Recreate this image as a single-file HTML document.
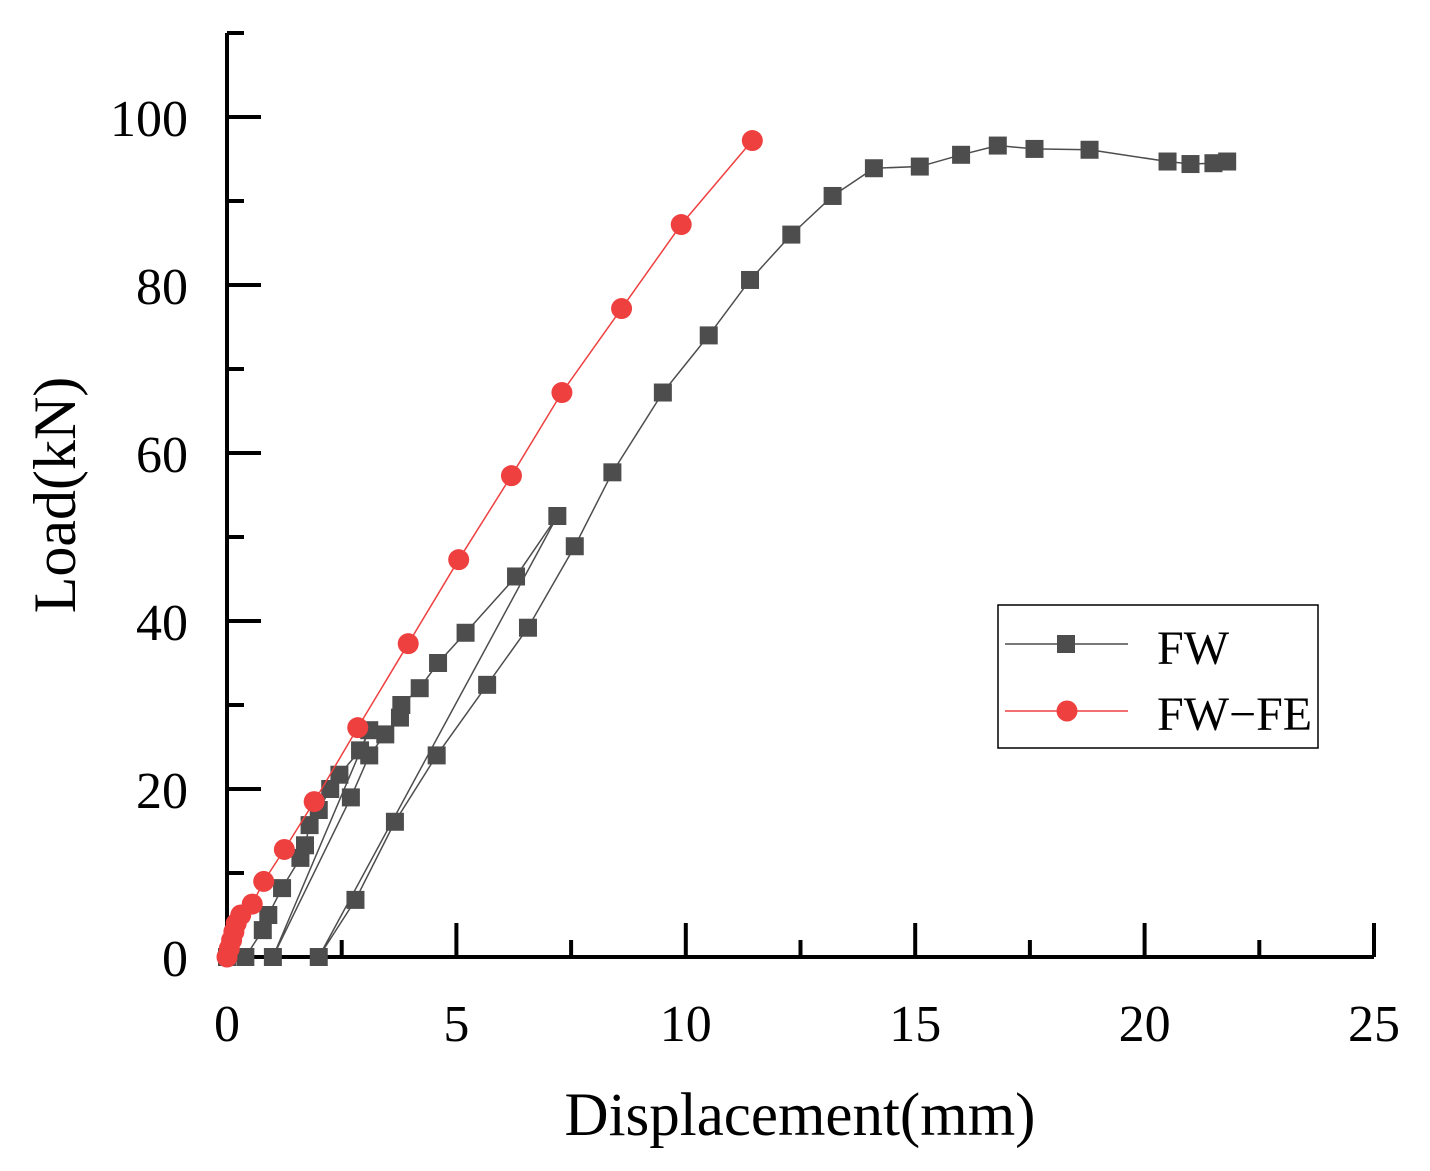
<!DOCTYPE html>
<html><head><meta charset="utf-8"><style>body{margin:0;background:#fff}svg{display:block}</style></head>
<body>
<svg id="chart" width="1430" height="1171" xmlns="http://www.w3.org/2000/svg" font-family="Liberation Serif, serif"></svg>
<script>
const fwX=[0,0.4,0.78,0.9,1.2,1.6,1.7,1.8,2.0,2.25,2.45,2.9,3.1,1.0,2.7,3.1,3.45,3.77,3.8,4.2,4.6,5.2,6.3,7.2,2.0,2.8,3.66,4.57,5.67,6.56,7.58,8.4,9.5,10.5,11.4,12.3,13.2,14.1,15.1,16.0,16.8,17.6,18.8,20.5,21.0,21.5,21.8];
const fwY=[0,0,3.2,5,8.2,11.8,13.3,15.7,17.5,20,21.7,24.6,27,0,19,24,26.5,28.5,30,32,35,38.6,45.3,52.5,0,6.8,16.1,24,32.4,39.2,48.9,57.7,67.2,74,80.6,86,90.6,93.9,94.1,95.5,96.6,96.2,96.1,94.7,94.4,94.5,94.7];
const feX=[0,0.05,0.1,0.15,0.2,0.3,0.55,0.8,1.25,1.9,2.85,3.95,5.05,6.2,7.3,8.6,9.9,11.45];
const feY=[0,1,2,3,4,5,6.3,9,12.8,18.5,27.3,37.3,47.3,57.3,67.2,77.2,87.2,97.2];
const xTicks=[0,5,10,15,20,25];
const yTicks=[0,20,40,60,80,100];
const NS="http://www.w3.org/2000/svg";
const svg=document.getElementById('chart');
const X0=227,X1=1374,Y0=957,YT=117;
const sx=v=>X0+v*(X1-X0)/25;
const sy=v=>Y0-v*(Y0-YT)/100;
function mk(t,a,p){const e=document.createElementNS(NS,t);for(const k in a)e.setAttribute(k,a[k]);(p||svg).appendChild(e);return e;}
let ax=mk('path',{d:`M${X0} 33 V${Y0} H${X1}`,stroke:'#000','stroke-width':4,fill:'none'});


for(let v=0;v<=25;v+=2.5){const maj=v%5===0;mk('line',{x1:sx(v),x2:sx(v),y1:Y0,y2:Y0-(maj?34:17),stroke:'#000','stroke-width':4});}
for(let v=10;v<=110;v+=10){const maj=v%20===0;mk('line',{x1:X0,x2:X0+(maj?34:17),y1:sy(v),y2:sy(v),stroke:'#000','stroke-width':4});}
xTicks.forEach(v=>{const t=mk('text',{x:sx(v),y:1041,'text-anchor':'middle','font-size':52});t.textContent=v;

});
yTicks.forEach(v=>{const t=mk('text',{x:188,y:sy(v)+19,'text-anchor':'end','font-size':52});t.textContent=v;

});
let xt=mk('text',{x:800,y:1135,'text-anchor':'middle','font-size':61});xt.textContent='Displacement(mm)';


let yt=mk('text',{x:0,y:0,'text-anchor':'middle','font-size':60,transform:'translate(75,495) rotate(-90)'});yt.textContent='Load(kN)';


let g1=mk('g',{});


mk('polyline',{points:fwX.map((x,i)=>sx(x)+','+sy(fwY[i])).join(' '),fill:'none',stroke:'#4d4d4d','stroke-width':1.5},g1);
fwX.forEach((x,i)=>{const r=mk('rect',{x:sx(x)-9,y:sy(fwY[i])-9,width:18,height:18,fill:'#4d4d4d'},g1);

});
let g2=mk('g',{});


mk('polyline',{points:feX.map((x,i)=>sx(x)+','+sy(feY[i])).join(' '),fill:'none',stroke:'#ef4040','stroke-width':1.5},g2);
feX.forEach((x,i)=>{const c=mk('circle',{cx:sx(x),cy:sy(feY[i]),r:10.5,fill:'#ef4040'},g2);

});
let lg=mk('g',{});


mk('rect',{x:998,y:605,width:320,height:143,fill:'#fff',stroke:'#000','stroke-width':1.5},lg);
mk('line',{x1:1005,x2:1128,y1:644,y2:644,stroke:'#4d4d4d','stroke-width':1.5},lg);
mk('rect',{x:1057,y:635,width:18,height:18,fill:'#4d4d4d'},lg);
mk('line',{x1:1005,x2:1128,y1:711,y2:711,stroke:'#ef4040','stroke-width':1.5},lg);
mk('circle',{cx:1067,cy:711,r:10.5,fill:'#ef4040'},lg);
let l1=mk('text',{x:1157,y:664,'font-size':48},lg);l1.textContent='FW';


let l2=mk('text',{x:1157,y:730,'font-size':48},lg);l2.textContent='FW−FE';


</script>
</body></html>
